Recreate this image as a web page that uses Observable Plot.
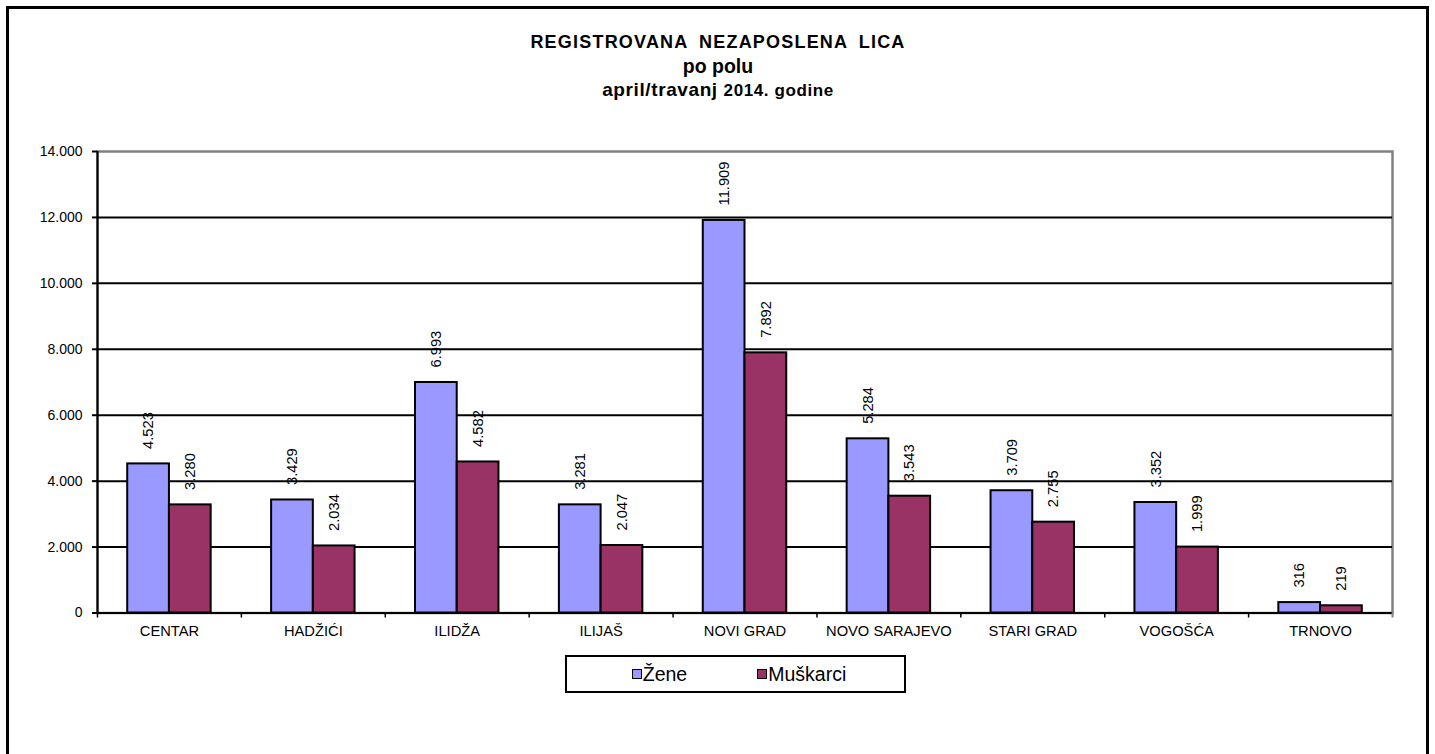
<!DOCTYPE html>
<html>
<head>
<meta charset="utf-8">
<script src="https://cdn.jsdelivr.net/npm/d3@7"></script>
<script src="https://cdn.jsdelivr.net/npm/@observablehq/plot@0.6"></script>
<style>
  html, body { margin: 0; padding: 0; background: #fff; overflow: hidden; }
  #wrap { position: relative; width: 1435px; height: 754px; overflow: hidden; font-family: "Liberation Sans", Arial, sans-serif; color: #000; }
  #border { position: absolute; left: 6px; top: 6px; width: 1417px; height: 900px; border: 3px solid #000; }
  .tl { position: absolute; left: 0; width: 1436px; text-align: center; font-weight: bold; white-space: nowrap; line-height: 20px; }
  #t1 { top: 32px; font-size: 18px; letter-spacing: 1.2px; word-spacing: 5px; }
  #t2 { top: 56px; font-size: 19.5px; }
  #t3 { top: 80px; font-size: 19px; letter-spacing: 0.6px; }
  #t3 .sm { font-size: 17px; letter-spacing: 0.6px; }
  #chart { position: absolute; left: 0; top: 0; }
  #legend { position: absolute; left: 565px; top: 655px; width: 330px; height: 34px; border: 2px solid #000; background: #fff;
            display: flex; align-items: center; justify-content: center; gap: 70px; font-size: 19.5px; padding-left: 7px; box-sizing: content-box; }
  .item { display: flex; align-items: center; }
  .sw { width: 8px; height: 8px; border: 1.5px solid #000; margin-right: 1px; }
</style>
</head>
<body>
<div id="wrap">
  <div id="border"></div>
  <div class="tl" id="t1">REGISTROVANA NEZAPOSLENA LICA</div>
  <div class="tl" id="t2">po polu</div>
  <div class="tl" id="t3">april/travanj <span class="sm">2014. godine</span></div>
  <div id="chart"></div>
  <div id="legend"></div>
</div>
<script>
const categories = ["CENTAR", "HADŽIĆI", "ILIDŽA", "ILIJAŠ", "NOVI GRAD", "NOVO SARAJEVO", "STARI GRAD", "VOGOŠĆA", "TRNOVO"];
const series = ["Žene", "Muškarci"];
const zene = [4523, 3429, 6993, 3281, 11909, 5284, 3709, 3352, 316];
const muskarci = [3280, 2034, 4582, 2047, 7892, 3543, 2755, 1999, 219];
const yTicks = [0, 2000, 4000, 6000, 8000, 10000, 12000, 14000];
const colors = ["#9999FF", "#993366"];

const locale = d3.formatLocale({decimal: ",", thousands: ".", grouping: [3], currency: ["", ""]});
const fmt = locale.format(",d");

const data = [];
categories.forEach((c, i) => {
  data.push({cat: c, series: series[0], value: zene[i]});
  data.push({cat: c, series: series[1], value: muskarci[i]});
});

const W = 1435, H = 700;
const mL = 97, mR = 43, mT = 151, mB = H - 612.5;
const pInner = 0.42, pOuter = 0.21;
const step = (W - mL - mR) / (categories.length - pInner + 2 * pOuter);
const bw = step * (1 - pInner);
const half = bw / 2;

const zData = data.filter(d => d.series === series[0]);
const mData = data.filter(d => d.series === series[1]);

const chart = Plot.plot({
  width: W, height: H,
  marginLeft: mL, marginRight: mR, marginTop: mT, marginBottom: mB,
  style: {fontFamily: "'Liberation Sans', Arial, sans-serif", color: "#000", background: "transparent", overflow: "visible"},
  x: {domain: categories, paddingInner: pInner, paddingOuter: pOuter, round: false, label: null},
  y: {domain: [0, 14000], label: null},
  marks: [
    Plot.frame({stroke: "#808080", strokeWidth: 2.5}),
    Plot.ruleY(yTicks.filter(t => t > 0 && t < 14000), {stroke: "#000", strokeWidth: 2}),
    Plot.ruleY([0], {stroke: "#000", strokeWidth: 2}),
    Plot.ruleX([categories[0]], {x: d => d, y1: 0, y2: 14000, dx: -step / 2, stroke: "#000", strokeWidth: 2}),
    Plot.ruleX(categories, {x: d => d, y1: 0, y2: 0, insetBottom: -5, dx: -step / 2, stroke: "#000", strokeWidth: 1.5}),
    Plot.ruleX([categories[categories.length - 1]], {x: d => d, y1: 0, y2: 0, insetBottom: -5, dx: step / 2, stroke: "#808080", strokeWidth: 2}),
    Plot.barY(zData, {x: "cat", y: "value", fill: colors[0], stroke: "#000", strokeWidth: 2, insetRight: half}),
    Plot.barY(mData, {x: "cat", y: "value", fill: colors[1], stroke: "#000", strokeWidth: 2, insetLeft: half}),
    Plot.text(zData, {x: "cat", y: "value", text: d => fmt(d.value), rotate: -90, textAnchor: "start", lineAnchor: "middle", dx: -half / 2, dy: -15, fontSize: 14.7, fill: "#000"}),
    Plot.text(mData, {x: "cat", y: "value", text: d => fmt(d.value), rotate: -90, textAnchor: "start", lineAnchor: "middle", dx: half / 2, dy: -15, fontSize: 14.7, fill: "#000"}),
    Plot.axisY({ticks: yTicks, tickFormat: fmt, tickSize: 5, tickPadding: 10, fontSize: 14, stroke: "#000", strokeWidth: 2, label: null}),
    Plot.axisX({tickSize: 0, tickPadding: 13, fontSize: 14.7, label: null})
  ]
});
document.getElementById("chart").appendChild(chart);

const legend = document.getElementById("legend");
series.forEach((s, i) => {
  const it = document.createElement("div");
  it.className = "item";
  const sw = document.createElement("div");
  sw.className = "sw";
  sw.style.background = colors[i];
  const tx = document.createElement("span");
  tx.textContent = s;
  it.appendChild(sw); it.appendChild(tx);
  legend.appendChild(it);
});
</script>
</body>
</html>
